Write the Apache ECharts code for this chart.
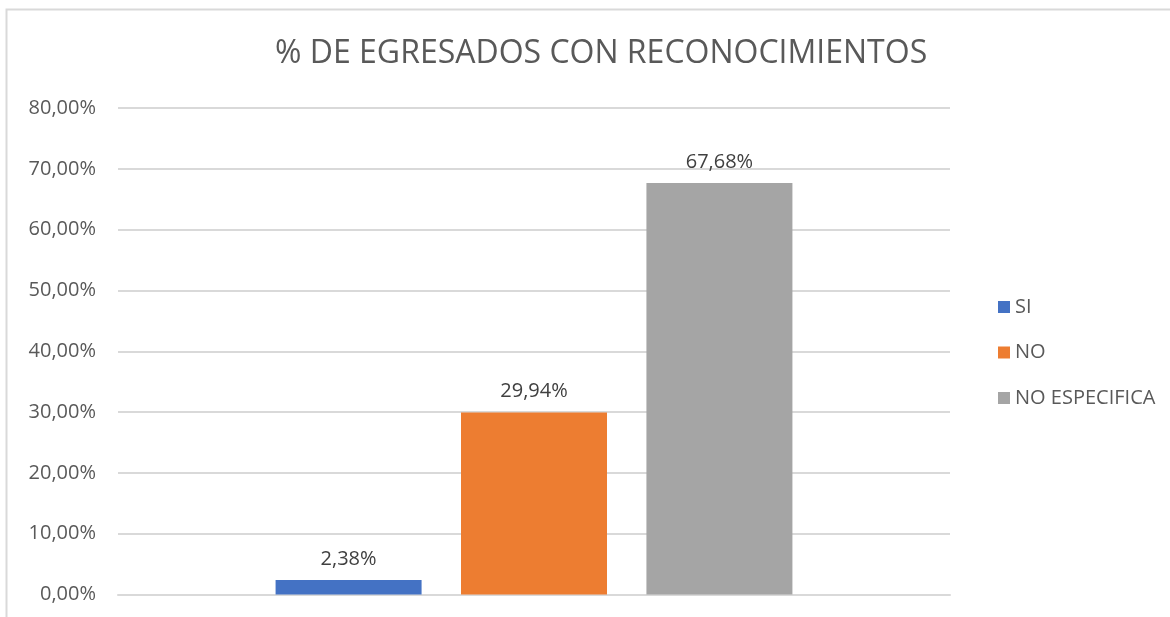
<!DOCTYPE html>
<html>
<head>
<meta charset="utf-8">
<script src="https://cdn.jsdelivr.net/npm/echarts@6/dist/echarts.min.js"></script>
<style>
html,body{margin:0;padding:0;background:#fff;}
#c{width:1170px;height:617px;}
</style>
</head>
<body>
<div id="c"></div>
<script>
const titleText = '% DE EGRESADOS CON RECONOCIMIENTOS';
const categories = [''];
const seriesNames = ['SI', 'NO', 'NO ESPECIFICA'];
const valSI = [2.38];
const valNO = [29.94];
const valNE = [67.68];
const colors = ['#4472C4', '#ED7D31', '#A5A5A5'];
const FONT = 'Open Sans';
const fmt = v => v.toFixed(2).replace('.', ',') + '%';

const chart = echarts.init(document.getElementById('c'));
const mk = (name, data, color) => ({
  name, type: 'bar', data, barWidth: 146, barGap: '27%',
  itemStyle: { color },
  label: { show: true, position: 'top', distance: 11, color: '#404040', fontFamily: FONT, fontSize: 20, formatter: p => fmt(p.value) }
});
chart.setOption({
  animation: false,
  textStyle: { fontFamily: FONT },
  title: { text: titleText, left: 270, top: 33, textStyle: { fontFamily: FONT, fontSize: 32, fontWeight: 'normal', color: '#595959' } },
  graphic: [{ type: 'rect', shape: { x: 6.5, y: 9.5, width: 1200, height: 700 }, style: { fill: 'none', stroke: '#D9D9D9', lineWidth: 2 }, silent: true }],
  legend: {
    orient: 'vertical', left: 993, top: 292, itemGap: 25.5, itemWidth: 12, itemHeight: 12,
    icon: 'rect', textStyle: { fontFamily: FONT, fontSize: 20, color: '#595959' },
    data: seriesNames
  },
  grid: { left: 118, right: 220, top: 108, bottom: 22.5 },
  xAxis: { type: 'category', data: categories, axisTick: { show: false }, axisLabel: { show: false }, axisLine: { lineStyle: { color: '#D9D9D9', width: 2 } } },
  yAxis: {
    type: 'value', min: 0, max: 80, interval: 10,
    axisLine: { show: false }, axisTick: { show: false },
    axisLabel: { formatter: v => fmt(v), color: '#595959', fontFamily: FONT, fontSize: 20, margin: 22 },
    splitLine: { lineStyle: { color: '#D9D9D9', width: 2 } }
  },
  series: [mk(seriesNames[0], valSI, colors[0]), mk(seriesNames[1], valNO, colors[1]), mk(seriesNames[2], valNE, colors[2])]
});
</script>
</body>
</html>
